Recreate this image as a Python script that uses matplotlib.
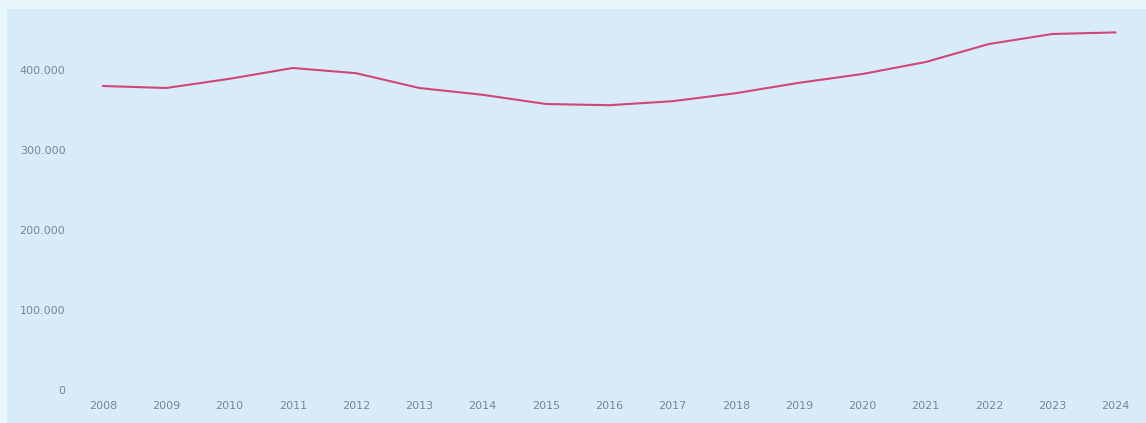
import matplotlib.pyplot as plt
from matplotlib.ticker import FuncFormatter

years = list(range(2008, 2025))
values = [380000, 377500, 389000, 402500, 396000, 377500, 369000, 357500, 356000,
          361000, 371000, 384000, 395000, 410000, 432500, 445000, 447000]
y_ticks = [0, 100000, 200000, 300000, 400000]

fig = plt.figure(figsize=(11.46, 4.23), dpi=100)
fig.patch.set_facecolor("#e7f5fc")

# panel occupies most of the figure, starting a few px in from left/top
W, H = 1146, 423
ax = fig.add_axes([7 / W, 0, 1 - 7 / W, 1 - 9 / H])
ax.set_facecolor("#d8ebf8")

ax.plot(years, values, color="#d2457a", linewidth=1.5, solid_capstyle="round")

ax.set_xlim(2006.485, 2024.48)
ax.set_ylim(-41250, 476250)

ax.set_xticks(years)
ax.set_yticks(y_ticks)
ax.yaxis.set_major_formatter(FuncFormatter(lambda v, p: f"{int(v):,}".replace(",", ".")))

for s in ax.spines.values():
    s.set_visible(False)

ax.tick_params(axis="both", length=0, labelsize=8, labelcolor="#7a8590")
ax.tick_params(axis="y", pad=-42)
ax.tick_params(axis="x", pad=-16)

fig.savefig("out.png", dpi=100, facecolor=fig.get_facecolor())
